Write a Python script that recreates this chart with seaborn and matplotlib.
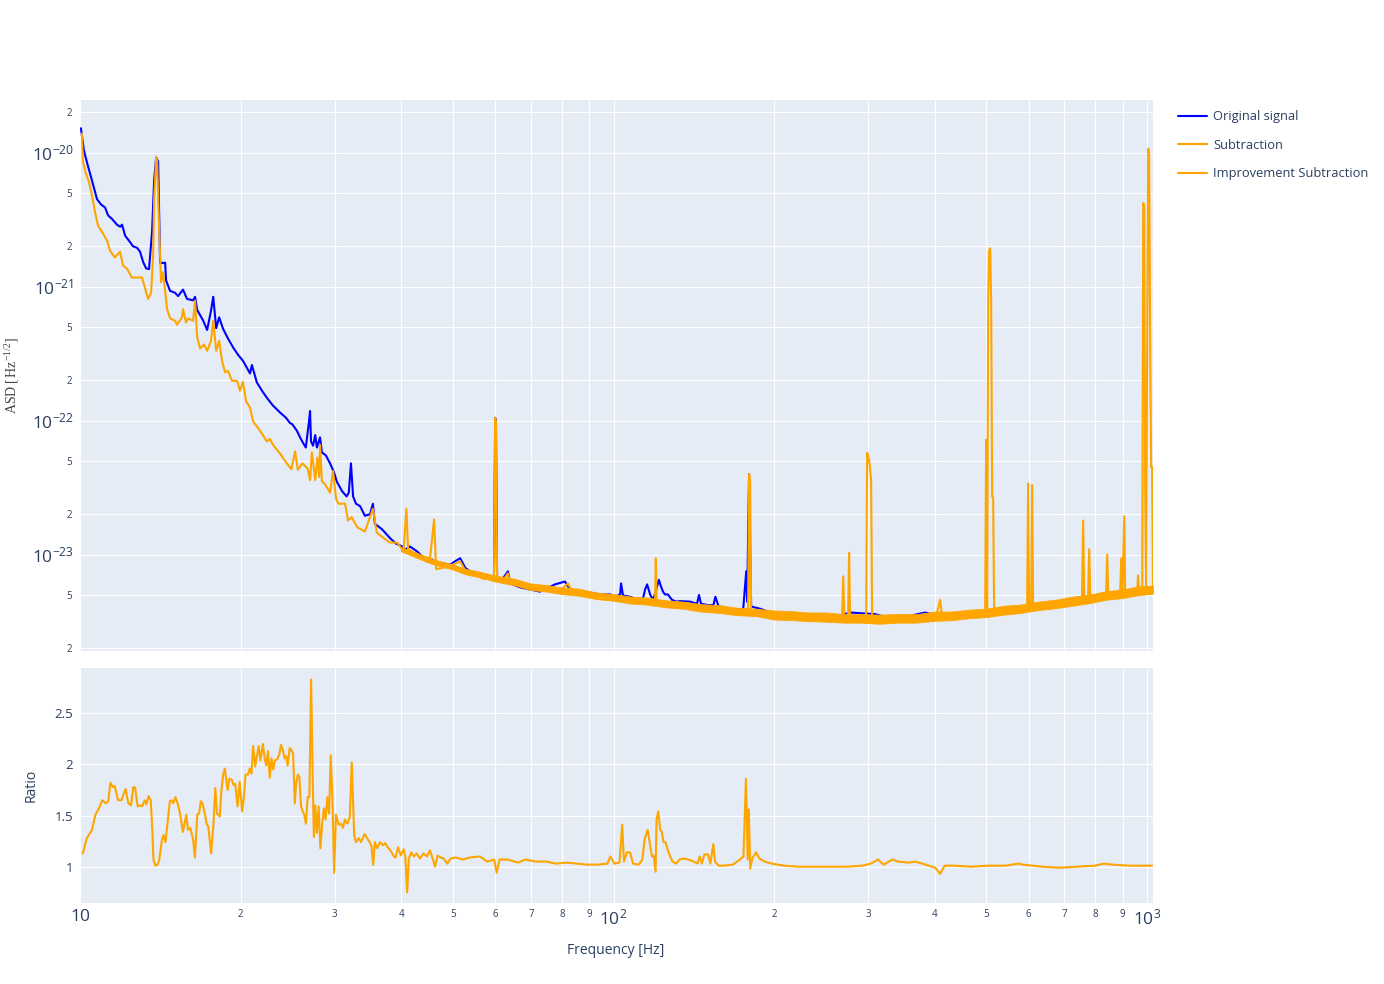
import numpy as np
import pandas as pd
import seaborn as sns
import matplotlib
matplotlib.use("Agg")
import matplotlib.pyplot as plt
from matplotlib.ticker import FixedLocator, FixedFormatter

# --- ASD of the original signal ---
orig_freq = [10.04, 10.17, 10.31, 10.53, 10.76, 10.95, 11.14, 11.29, 11.48, 11.73, 11.89, 11.99, 12.15, 12.41,
             12.57, 12.79, 12.96, 13.13, 13.30, 13.47, 13.65, 13.77, 13.89, 14.01, 14.13, 14.31, 14.44, 14.50,
             14.75, 15.07, 15.27, 15.60, 15.87, 16.29, 16.43, 16.58, 17.01, 17.31, 17.60, 17.77, 18.00, 18.23,
             18.54, 18.94, 19.38, 19.78, 20.20, 20.83, 21.00, 21.45, 21.94, 22.40, 22.98, 23.71, 24.33, 24.75,
             25.00, 25.50, 25.85, 26.20, 26.50, 26.87, 26.99, 27.10, 27.34, 27.60, 27.80, 28.18, 28.40, 28.90,
             29.42, 29.94, 30.30, 31.00, 31.60, 31.90, 32.20, 32.50, 32.90, 33.50, 34.20, 34.96, 35.40, 35.70,
             36.80, 38.10, 39.10, 40.20, 40.70, 41.55, 42.80, 43.80, 44.70, 45.70, 46.70, 48.00, 49.40, 50.40,
             51.60, 52.70, 53.80, 55.20, 57.00, 58.70, 59.70, 60.00, 60.20, 60.50, 61.80, 63.40, 64.00, 66.80,
             69.75, 72.80, 76.00, 77.70, 81.10, 82.90, 87.70, 94.35, 98.50, 100.7, 102.9, 103.3, 104.2, 107.4,
             111.2, 113.1, 114.6, 115.6, 117.1, 118.6, 120.0, 121.6, 122.7, 123.8, 124.8, 126.4, 128.7, 131.1,
             133.2, 139.1, 143.4, 144.6, 145.9, 150.4, 153.9, 155.2, 157.4, 163.2, 169.3, 175.0, 177.3, 178.0,
             179.5, 181.1, 188.2, 196.5, 223.7, 254.7, 277.6, 309.0, 330.0, 359.7, 384.0, 409.5, 446.0, 486.7,
             530.6, 578.4, 630.6, 687.0, 749.0, 817.0, 890.7, 971.0, 1022.0]
orig_asd = [1.52e-20, 1.04e-20, 8.4e-21, 6.2e-21, 4.5e-21, 4.1e-21, 3.9e-21, 3.4e-21, 3.2e-21, 2.9e-21, 2.8e-21,
            2.9e-21, 2.4e-21, 2.15e-21, 2.0e-21, 1.95e-21, 1.82e-21, 1.53e-21, 1.37e-21, 1.35e-21, 2.6e-21, 6.2e-21,
            9.2e-21, 8.6e-21, 1.51e-21, 1.5e-21, 1.51e-21, 1.11e-21, 9.3e-22, 9.0e-22, 8.5e-22, 9.5e-22, 8.1e-22,
            7.9e-22, 8.4e-22, 6.7e-22, 5.6e-22, 4.75e-22, 6.6e-22, 8.4e-22, 4.9e-22, 5.9e-22, 4.85e-22, 4.1e-22,
            3.5e-22, 3.1e-22, 2.8e-22, 2.25e-22, 2.6e-22, 1.93e-22, 1.67e-22, 1.48e-22, 1.3e-22, 1.15e-22, 1.05e-22,
            9.6e-23, 9.4e-23, 8.4e-23, 7.5e-23, 6.8e-23, 6.3e-23, 9.9e-23, 1.18e-22, 7.0e-23, 6.5e-23, 7.8e-23,
            6.3e-23, 7.5e-23, 5.8e-23, 5.5e-23, 4.8e-23, 4.1e-23, 3.5e-23, 2.97e-23, 2.72e-23, 2.9e-23, 4.8e-23,
            2.72e-23, 2.4e-23, 2.3e-23, 1.95e-23, 2.0e-23, 2.4e-23, 1.7e-23, 1.55e-23, 1.33e-23, 1.21e-23, 1.15e-23,
            1.09e-23, 1.15e-23, 1.06e-23, 9.7e-24, 8.9e-24, 9.2e-24, 8.6e-24, 8.6e-24, 8.4e-24, 8.9e-24, 9.4e-24,
            8.0e-24, 7.5e-24, 7.35e-24, 7.1e-24, 6.8e-24, 6.7e-24, 1.05e-22, 9.9e-23, 6.7e-24, 6.5e-24, 7.5e-24,
            6.1e-24, 5.7e-24, 5.5e-24, 5.3e-24, 5.75e-24, 6.0e-24, 6.3e-24, 5.5e-24, 5.3e-24, 5.05e-24, 5.05e-24,
            4.85e-24, 5.05e-24, 6.1e-24, 4.95e-24, 4.85e-24, 4.6e-24, 4.4e-24, 5.5e-24, 6.0e-24, 5.05e-24, 4.6e-24,
            5.3e-24, 6.5e-24, 5.8e-24, 5.3e-24, 5.05e-24, 5.05e-24, 4.6e-24, 4.46e-24, 4.5e-24, 4.46e-24, 4.3e-24,
            5.0e-24, 4.3e-24, 4.2e-24, 4.2e-24, 4.85e-24, 4.1e-24, 3.95e-24, 3.9e-24, 3.9e-24, 7.5e-24, 4.46e-24,
            4.0e-23, 4.1e-24, 3.95e-24, 3.7e-24, 3.5e-24, 3.35e-24, 3.7e-24, 3.6e-24, 3.35e-24, 3.5e-24, 3.7e-24,
            3.45e-24, 3.6e-24, 3.76e-24, 3.85e-24, 4.0e-24, 4.2e-24, 4.4e-24, 4.6e-24, 4.95e-24, 5.2e-24, 5.4e-24,
            5.5e-24]

# --- ASD after subtraction ---
sub_freq = [10.08, 10.13, 10.26, 10.40, 10.53, 10.67, 10.81, 11.04, 11.24, 11.38, 11.62, 11.89, 12.04, 12.25,
            12.51, 12.79, 13.07, 13.24, 13.41, 13.59, 13.71, 13.77, 13.89, 13.95, 14.07, 14.19, 14.31, 14.44,
            14.56, 14.75, 15.07, 15.20, 15.53, 15.60, 15.80, 15.94, 16.29, 16.43, 16.58, 16.79, 17.08, 17.31,
            17.60, 17.77, 18.00, 18.23, 18.46, 18.70, 18.94, 19.27, 19.70, 19.95, 20.20, 20.47, 20.83, 21.10,
            21.75, 22.40, 22.70, 23.00, 23.70, 24.40, 24.90, 25.30, 25.60, 26.10, 26.70, 26.99, 27.20, 27.60,
            27.85, 28.07, 28.18, 28.40, 28.80, 29.42, 29.80, 30.20, 30.50, 31.40, 31.80, 32.30, 33.10, 34.20,
            35.40, 36.00, 36.90, 38.10, 39.30, 40.40, 40.90, 41.20, 43.40, 45.30, 46.10, 46.50, 48.70, 50.60,
            51.60, 53.10, 55.20, 57.00, 58.70, 59.70, 60.00, 60.20, 60.50, 61.80, 63.40, 64.00, 66.80, 70.60,
            75.00, 79.40, 82.20, 83.60, 87.70, 93.10, 98.50, 102.9, 108.3, 113.6, 117.6, 119.6, 120.0, 120.5,
            124.8, 133.2, 145.3, 158.3, 169.3, 177.3, 178.7, 179.5, 180.3, 181.1, 196.5, 223.7, 254.7, 268.2,
            269.5, 270.7, 275.2, 276.4, 277.6, 297.5, 298.8, 301.4, 304.0, 305.3, 344.5, 401.6, 409.5, 413.1,
            466.0, 497.2, 499.4, 501.5, 503.7, 505.9, 508.1, 510.3, 512.5, 514.7, 516.9, 554.0, 596.0, 598.5,
            601.1, 606.3, 608.9, 611.6, 658.4, 717.8, 755.0, 759.0, 762.5, 775.0, 779.1, 783.0, 804.0, 838.0,
            842.0, 846.0, 872.0, 890.0, 894.6, 899.0, 906.4, 910.0, 938.0, 958.0, 962.0, 966.0, 979.5, 983.7,
            988.0, 992.0, 996.0, 1000.0, 1005.0, 1009.0, 1014.0, 1018.0, 1022.0, 1026.0]
sub_asd = [1.39e-20, 8.5e-21, 7.0e-21, 6.0e-21, 4.8e-21, 3.6e-21, 2.85e-21, 2.5e-21, 2.2e-21, 1.86e-21, 1.65e-21,
           1.82e-21, 1.44e-21, 1.36e-21, 1.17e-21, 1.17e-21, 1.17e-21, 9.7e-22, 8.1e-22, 9.0e-22, 1.7e-21, 4.4e-21,
           9.2e-21, 8.6e-21, 2.7e-21, 1.08e-21, 1.28e-21, 9.3e-22, 6.8e-22, 5.8e-22, 5.56e-22, 5.2e-22, 5.9e-22,
           6.8e-22, 5.4e-22, 5.8e-22, 5.56e-22, 7.85e-22, 4.2e-22, 3.45e-22, 3.7e-22, 3.32e-22, 3.94e-22, 5.56e-22,
           3.32e-22, 3.94e-22, 2.79e-22, 2.3e-22, 2.35e-22, 1.98e-22, 1.98e-22, 1.67e-22, 1.95e-22, 1.40e-22,
           1.25e-22, 9.9e-23, 8.4e-23, 7.0e-23, 7.3e-23, 6.6e-23, 5.7e-23, 4.8e-23, 4.35e-23, 5.9e-23, 4.3e-23,
           4.8e-23, 4.4e-23, 3.6e-23, 5.8e-23, 3.6e-23, 5.3e-23, 3.8e-23, 6.6e-23, 3.53e-23, 3.35e-23, 2.9e-23,
           4.2e-23, 2.6e-23, 2.4e-23, 2.4e-23, 1.8e-23, 1.9e-23, 1.6e-23, 1.49e-23, 2.2e-23, 1.46e-23, 1.35e-23,
           1.23e-23, 1.23e-23, 1.06e-23, 2.2e-23, 1.1e-23, 9.7e-24, 9.4e-24, 1.83e-23, 7.8e-24, 8.1e-24, 8.6e-24,
           8.9e-24, 7.25e-24, 7.0e-24, 6.6e-24, 6.6e-24, 6.6e-24, 1.05e-22, 9.6e-23, 6.6e-24, 6.3e-24, 7.25e-24,
           6.1e-24, 5.9e-24, 5.8e-24, 5.5e-24, 5.4e-24, 6.1e-24, 5.3e-24, 5.05e-24, 4.7e-24, 4.6e-24, 4.5e-24,
           4.46e-24, 4.4e-24, 4.2e-24, 4.2e-24, 9.4e-24, 4.2e-24, 4.2e-24, 4.1e-24, 3.9e-24, 3.8e-24, 3.76e-24,
           3.7e-24, 3.7e-24, 4.0e-23, 3.5e-23, 3.65e-24, 3.55e-24, 3.45e-24, 3.3e-24, 3.3e-24, 6.9e-24, 3.3e-24,
           3.3e-24, 1.03e-23, 3.3e-24, 3.3e-24, 5.75e-23, 5.1e-23, 3.55e-23, 3.3e-24, 3.3e-24, 3.35e-24, 4.6e-24,
           3.35e-24, 3.55e-24, 3.7e-24, 7.2e-23, 3.7e-24, 8.1e-22, 1.86e-21, 1.93e-21, 7.85e-22, 2.72e-23, 2.65e-23,
           3.7e-24, 3.85e-24, 4.0e-24, 3.4e-23, 4.0e-24, 4.0e-24, 3.3e-23, 4.0e-24, 4.3e-24, 4.46e-24, 4.55e-24,
           1.8e-23, 4.55e-24, 4.6e-24, 1.1e-23, 4.65e-24, 4.7e-24, 4.85e-24, 1.0e-23, 4.85e-24, 4.9e-24, 5.0e-24,
           9.4e-24, 5.0e-24, 1.93e-23, 5.05e-24, 5.05e-24, 5.2e-24, 7.0e-24, 5.3e-24, 5.4e-24, 4.2e-21, 4.0e-21,
           3.0e-23, 5.5e-24, 2.0e-22, 1.07e-20, 1.0e-20, 3.0e-22, 4.5e-23, 4.5e-23, 5.5e-24]

# envelope of the fast noise on the subtraction trace (thick band above ~40 Hz)
band_freq = [40, 43, 46, 50, 53, 56, 60, 65, 70, 75, 80, 86, 93, 100, 108, 116, 125, 135, 146, 158, 170, 185,
             200, 215, 232, 250, 270, 290, 315, 340, 370, 400, 430, 465, 500, 540, 580, 625, 675, 725, 780, 840,
             900, 960, 1026]
band_high = [1.137e-23, 1.024e-23, 9.2e-24, 8.45e-24, 7.81e-24, 7.48e-24, 6.98e-24, 6.63e-24, 6.09e-24, 5.93e-24,
             5.68e-24, 5.58e-24, 5.21e-24, 5.08e-24, 4.86e-24, 4.78e-24, 4.57e-24, 4.46e-24, 4.27e-24, 4.2e-24,
             4.02e-24, 3.95e-24, 3.83e-24, 3.79e-24, 3.7e-24, 3.7e-24, 3.6e-24, 3.6e-24, 3.57e-24, 3.6e-24,
             3.6e-24, 3.76e-24, 3.76e-24, 3.89e-24, 3.95e-24, 4.16e-24, 4.24e-24, 4.46e-24, 4.62e-24, 4.86e-24,
             5.03e-24, 5.35e-24, 5.49e-24, 5.78e-24, 5.88e-24]
band_low = [1.06e-23, 9.39e-24, 8.45e-24, 7.75e-24, 7.1e-24, 6.8e-24, 6.3e-24, 5.93e-24, 5.44e-24, 5.3e-24,
            5.08e-24, 4.94e-24, 4.66e-24, 4.54e-24, 4.31e-24, 4.24e-24, 4.05e-24, 3.95e-24, 3.76e-24, 3.67e-24,
            3.54e-24, 3.48e-24, 3.28e-24, 3.25e-24, 3.19e-24, 3.16e-24, 3.11e-24, 3.11e-24, 3.05e-24, 3.11e-24,
            3.11e-24, 3.21e-24, 3.24e-24, 3.36e-24, 3.42e-24, 3.57e-24, 3.67e-24, 3.86e-24, 3.99e-24, 4.16e-24,
            4.35e-24, 4.62e-24, 4.74e-24, 4.98e-24, 5.12e-24]

# --- improvement ratio ---
ratio_freq = [10.12, 10.30, 10.53, 10.69, 10.85, 11.01, 11.18, 11.30, 11.40, 11.52, 11.61, 11.79, 11.96, 12.17,
              12.32, 12.46, 12.59, 12.69, 12.82, 12.98, 13.08, 13.22, 13.32, 13.44, 13.57, 13.67, 13.73, 13.84,
              13.98, 14.08, 14.24, 14.34, 14.46, 14.74, 14.84, 14.95, 15.10, 15.24, 15.40, 15.59, 15.70, 15.82,
              15.94, 16.10, 16.30, 16.42, 16.59, 16.72, 16.84, 16.96, 17.14, 17.27, 17.40, 17.61, 17.79, 17.93,
              18.06, 18.28, 18.41, 18.55, 18.68, 18.91, 19.05, 19.25, 19.39, 19.54, 19.74, 19.92, 20.13, 20.28,
              20.43, 20.65, 20.80, 20.96, 21.11, 21.30, 21.46, 21.62, 21.78, 22.02, 22.21, 22.35, 22.51, 22.68,
              22.85, 23.02, 23.19, 23.43, 23.64, 23.81, 24.00, 24.18, 24.36, 24.50, 24.72, 24.90, 25.08, 25.27,
              25.42, 25.61, 25.77, 25.96, 26.16, 26.31, 26.52, 26.71, 26.91, 27.11, 27.32, 27.44, 27.60, 27.80,
              28.01, 28.22, 28.44, 28.65, 28.86, 29.08, 29.30, 29.51, 29.73, 29.95, 30.18, 30.54, 30.85, 31.10,
              31.37, 31.70, 32.04, 32.31, 32.65, 32.90, 33.29, 33.63, 34.15, 34.50, 34.92, 35.18, 35.44, 35.70,
              36.07, 36.51, 36.95, 37.34, 37.73, 38.17, 38.75, 39.04, 39.45, 39.93, 40.41, 40.72, 41.03, 41.34,
              41.77, 42.28, 42.73, 43.39, 44.03, 44.70, 45.29, 45.87, 46.29, 46.80, 47.36, 48.07, 48.78, 49.53,
              50.66, 52.19, 53.76, 56.21, 57.94, 59.76, 60.40, 61.16, 63.33, 66.28, 68.30, 71.49, 74.83, 78.00,
              81.70, 85.40, 89.20, 93.20, 97.40, 98.60, 100.4, 102.6, 103.8, 104.6, 105.9, 107.4, 108.8, 111.6,
              113.2, 114.5, 115.9, 117.2, 118.0, 118.9, 119.9, 120.4, 121.3, 122.3, 123.2, 124.1, 125.1, 127.0,
              129.0, 131.0, 133.0, 135.0, 138.2, 141.4, 143.6, 145.1, 146.4, 148.0, 150.3, 151.9, 153.8, 155.0,
              157.4, 161.1, 167.3, 172.6, 175.2, 177.1, 178.4, 179.3, 180.4, 182.0, 184.9, 187.7, 192.0, 198.0,
              208.7, 221.9, 235.9, 254.4, 274.8, 292.7, 303.6, 313.3, 320.6, 333.3, 341.4, 358.4, 367.3, 379.3,
              395.4, 400.8, 409.3, 417.5, 434.3, 468.1, 504.4, 543.8, 573.1, 586.6, 635.4, 685.6, 739.8, 798.7,
              829.4, 861.8, 930.0, 1022.0]
ratio = [1.13, 1.28, 1.36, 1.51, 1.57, 1.65, 1.62, 1.64, 1.82, 1.78, 1.79, 1.65, 1.65, 1.76, 1.62, 1.60, 1.78,
         1.77, 1.59, 1.60, 1.59, 1.65, 1.61, 1.69, 1.65, 1.33, 1.07, 1.01, 1.02, 1.07, 1.26, 1.31, 1.24, 1.64,
         1.65, 1.62, 1.68, 1.62, 1.52, 1.34, 1.42, 1.51, 1.36, 1.38, 1.26, 1.09, 1.51, 1.52, 1.64, 1.62, 1.52,
         1.42, 1.39, 1.13, 1.42, 1.77, 1.52, 1.49, 1.75, 1.90, 1.96, 1.75, 1.86, 1.85, 1.80, 1.81, 1.59, 1.83,
         1.54, 1.67, 1.90, 1.90, 1.96, 1.91, 2.18, 1.98, 2.08, 2.18, 2.04, 2.20, 2.04, 1.99, 2.13, 1.87, 2.06,
         1.95, 2.04, 2.05, 2.10, 2.19, 2.14, 2.06, 2.08, 1.99, 2.16, 2.14, 2.11, 1.62, 1.82, 1.90, 1.88, 1.59,
         1.54, 1.51, 1.42, 1.68, 1.68, 2.83, 1.78, 1.29, 1.60, 1.33, 1.59, 1.18, 1.42, 1.57, 1.46, 1.68, 1.52,
         2.09, 1.64, 0.94, 1.51, 1.41, 1.42, 1.38, 1.46, 1.42, 1.49, 2.02, 1.31, 1.24, 1.28, 1.24, 1.32, 1.28,
         1.24, 1.20, 1.02, 1.24, 1.18, 1.24, 1.21, 1.23, 1.19, 1.16, 1.10, 1.09, 1.19, 1.11, 1.17, 1.10, 0.75,
         1.08, 1.14, 1.10, 1.13, 1.08, 1.13, 1.10, 1.16, 1.07, 1.00, 1.11, 1.09, 1.08, 1.03, 1.08, 1.09, 1.07,
         1.09, 1.10, 1.05, 1.07, 0.94, 1.07, 1.07, 1.04, 1.07, 1.05, 1.05, 1.03, 1.04, 1.03, 1.02, 1.02, 1.03,
         1.10, 1.03, 1.04, 1.41, 1.05, 1.14, 1.14, 1.03, 1.02, 1.07, 1.28, 1.36, 1.20, 1.10, 1.11, 0.95, 1.46,
         1.54, 1.36, 1.34, 1.24, 1.24, 1.13, 1.05, 1.03, 1.07, 1.08, 1.07, 1.05, 1.03, 1.10, 1.03, 1.12, 1.12,
         1.03, 1.22, 1.05, 1.01, 1.01, 1.02, 1.07, 1.10, 1.86, 1.07, 1.56, 0.98, 1.08, 1.14, 1.08, 1.05, 1.03,
         1.01, 1.00, 1.00, 1.00, 1.00, 1.01, 1.03, 1.07, 1.02, 1.07, 1.05, 1.04, 1.05, 1.03, 1.00, 0.99, 0.93,
         1.01, 1.01, 1.00, 1.01, 1.01, 1.03, 1.02, 1.00, 0.99, 1.00, 1.01, 1.03, 1.02, 1.01, 1.01]

assert len(orig_freq) == len(orig_asd)
assert len(sub_freq) == len(sub_asd)
assert len(band_freq) == len(band_high) == len(band_low)
assert len(ratio_freq) == len(ratio)

orig = pd.DataFrame({"f": orig_freq, "asd": orig_asd})
sub = pd.DataFrame({"f": sub_freq, "asd": sub_asd})
imp = pd.DataFrame({"f": ratio_freq, "ratio": ratio})

BLUE = "#0000ff"
ORANGE = "#ffa500"
TXT = "#2a3f5f"

sns.set_theme(style="darkgrid", rc={"axes.facecolor": "#E5ECF6", "grid.color": "white",
                                     "grid.linewidth": 0.8, "figure.facecolor": "white"})
plt.rcParams['font.family'] = ['Open Sans', 'DejaVu Sans']
plt.rcParams['mathtext.default'] = 'regular'

W, H = 1384, 984
fig = plt.figure(figsize=(W / 100, H / 100), dpi=100)
ax1 = fig.add_axes([80 / W, 1 - 651 / H, 1073 / W, 551 / H])
ax2 = fig.add_axes([80 / W, 1 - 903.3 / H, 1073 / W, 235.6 / H])

lw = 1.5
sns.lineplot(data=orig, x="f", y="asd", ax=ax1, color=BLUE, lw=lw, estimator=None, sort=False,
             label="Original signal")
ax1.fill_between(band_freq, band_low, band_high, color=ORANGE, lw=0.6, edgecolor=ORANGE, zorder=2.5)
sns.lineplot(data=sub, x="f", y="asd", ax=ax1, color=ORANGE, lw=lw, estimator=None, sort=False,
             label="Subtraction")
sns.lineplot(data=imp, x="f", y="ratio", ax=ax2, color=ORANGE, lw=lw, estimator=None, sort=False,
             label="Improvement Subtraction")

for ax in (ax1, ax2):
    ax.set_xscale("log")
    ax.set_xlim(10, 1026)
    ax.set_xlabel("")
    ax.set_ylabel("")
    for s in ax.spines.values():
        s.set_visible(False)
    ax.tick_params(which="both", length=0, colors=TXT)
    xmin = [m * d for d in (10, 100) for m in range(2, 10)]
    ax.xaxis.set_major_locator(FixedLocator([10, 100, 1000]))
    ax.xaxis.set_minor_locator(FixedLocator(xmin))
    ax.grid(True, which="both", color="white", lw=0.8)

ax1.set_yscale("log")
ax1.set_ylim(1.91e-24, 2.47e-20)
ax1.yaxis.set_major_locator(FixedLocator([1e-23, 1e-22, 1e-21, 1e-20]))
ax1.yaxis.set_major_formatter(FixedFormatter([r"$10^{-23}$", r"$10^{-22}$", r"$10^{-21}$", r"$10^{-20}$"]))
ymin = [2e-24, 5e-24, 2e-23, 5e-23, 2e-22, 5e-22, 2e-21, 5e-21, 2e-20]
ax1.yaxis.set_minor_locator(FixedLocator(ymin))
ax1.yaxis.set_minor_formatter(FixedFormatter(["2", "5"] * 4 + ["2"]))
ax1.tick_params(axis="y", which="major", labelsize=12.5, pad=4)
ax1.tick_params(axis="y", which="minor", labelsize=7, pad=6)
ax1.tick_params(axis="x", which="both", labelbottom=False)

ax2.set_ylim(0.642, 2.946)
ax2.set_yticks([1, 1.5, 2, 2.5])
ax2.set_yticklabels(["1", "1.5", "2", "2.5"])
ax2.tick_params(axis="y", labelsize=9.5, pad=5)
ax2.xaxis.set_major_formatter(FixedFormatter(["10", r"$10^{2}$", r"$10^{3}$"]))
ax2.xaxis.set_minor_formatter(FixedFormatter([str(m) for m in range(2, 10)] * 2))
ax2.tick_params(axis="x", which="major", labelsize=12.5, pad=4)
ax2.tick_params(axis="x", which="minor", labelsize=7, pad=4)

handles = []
for ax in (ax1, ax2):
    h, l = ax.get_legend_handles_labels()
    handles += h
    if ax.get_legend() is not None:
        ax.get_legend().remove()
fig.legend(handles=handles, labels=["Original signal", "Subtraction", "Improvement Subtraction"],
           loc="upper left", bbox_to_anchor=(1172 / W, 1 - 104 / H), frameon=False, fontsize=9.3,
           labelcolor=TXT, handlelength=2.2, handletextpad=0.5, labelspacing=1.2, borderpad=0)

fig.text(12 / W, 1 - 375 / H, r"ASD$\,$[$\,$Hz$^{-1/2}$]", rotation=90, va="center", ha="center",
         fontsize=10, color="#444444", family=["Liberation Serif", "DejaVu Serif"])
fig.text(31 / W, 1 - 785 / H, "Ratio", rotation=90, va="center", ha="center", fontsize=10, color=TXT)
fig.text(616 / W, 1 - 950 / H, "Frequency [Hz]", va="center", ha="center", fontsize=10, color=TXT)

fig.savefig("out.png", dpi=100)
